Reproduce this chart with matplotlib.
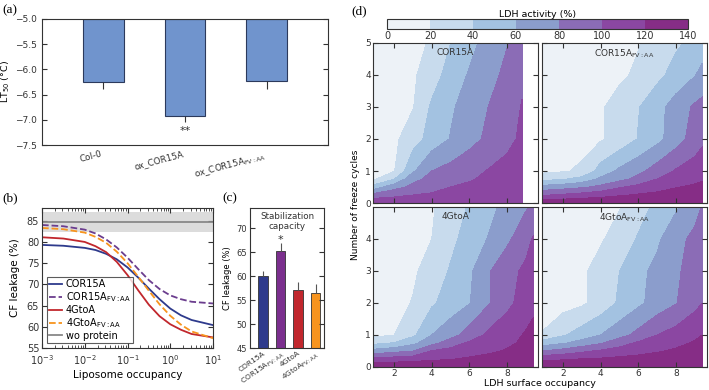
import numpy as np
import matplotlib
matplotlib.use("Agg")
import matplotlib.pyplot as plt
from matplotlib.colors import ListedColormap, BoundaryNorm

plt.rcParams['font.family'] = ['DejaVu Sans']
plt.rcParams['mathtext.default'] = 'regular'
plt.rcParams['xtick.direction'] = 'in'
plt.rcParams['ytick.direction'] = 'in'
plt.rcParams['xtick.top'] = True
plt.rcParams['ytick.right'] = True
plt.rcParams['xtick.labelsize'] = 6.5
plt.rcParams['ytick.labelsize'] = 6.5
plt.rcParams['axes.linewidth'] = 0.8
plt.rcParams['axes.edgecolor'] = '#333333'
plt.rcParams['xtick.color'] = '#333333'
plt.rcParams['ytick.color'] = '#333333'

########################
# (a) LT50 of the lines
lines_a = ['Col-0', 'ox_COR15A', 'ox_COR15A$_{FV:AA}$']
lt50 = [-6.25, -6.92, -6.23]
lt50_err = [0.13, 0.13, 0.15]

# (b) CF leakage vs liposome occupancy
occupancy = [0.001, 0.00316, 0.01, 0.0178, 0.0316, 0.0562, 0.1, 0.178,
             0.316, 0.562, 1.0, 1.78, 3.16, 10.0]
leak_cor = [79.3, 79.1, 78.6, 78.1, 77.2, 75.9, 74.0, 71.6, 69.0, 66.5, 64.3, 62.7, 61.6, 60.4]
leak_cor_fv = [84.0, 83.7, 82.9, 82.0, 80.6, 78.7, 76.3, 73.6, 71.0, 68.9, 67.4, 66.5, 65.9, 65.5]
leak_4g = [81.1, 80.8, 80.0, 79.0, 77.6, 75.3, 72.2, 68.6, 65.2, 62.5, 60.6, 59.3, 58.3, 57.5]
leak_4g_fv = [83.3, 83.0, 82.2, 81.2, 79.8, 77.7, 75.0, 71.8, 68.5, 65.3, 62.6, 60.5, 58.9, 57.3]
wo_protein = 84.8
wo_protein_band = (82.4, 87.1)
labels_b = ['COR15A', 'COR15A$_{FV:AA}$', '4GtoA', '4GtoA$_{FV:AA}$', 'wo protein']

# (c) stabilization capacity
capacity = [60.0, 65.3, 57.2, 56.4]
capacity_err = [1.0, 1.5, 1.5, 1.9]
colors_c = ['#2e3a8c', '#7b2f8e', '#c1272d', '#f7941e']

# (d) LDH activity maps
ldh_levels = [0, 20, 40, 60, 80, 100, 120, 140]
freeze = [0, 0.25, 0.5, 0.75, 1, 2, 3, 4, 5]
surf_tl = [0.9, 2, 3, 4, 5, 6, 7, 8, 8.8]
surf = [0.9, 2, 3, 4, 5, 6, 7, 8, 9, 9.4]

ldh_cor = [
    [118, 118, 119, 119, 119, 119, 119, 119, 119],
    [87, 94, 100, 103, 106, 109, 112, 116, 118],
    [48, 73, 85, 92, 100, 104, 108, 112, 115],
    [17, 39, 75, 85, 92, 98, 104, 109, 113],
    [14, 19, 57, 80, 87, 94, 101, 107, 112],
    [6, 16, 31, 48, 61, 73, 84, 94, 104],
    [5, 12, 19, 43, 57, 69, 80, 91, 101],
    [4, 11, 17, 31, 48, 62, 73, 85, 97],
    [4, 10, 15, 22, 40, 54, 67, 79, 92],
]
ldh_cor_fv = [
    [135, 136, 137, 137, 138, 138, 139, 139, 139, 139],
    [98, 103, 108, 113, 118, 122, 125, 128, 131, 132],
    [67, 72, 77, 85, 98, 106, 112, 119, 123, 125],
    [34, 38, 47, 64, 74, 86, 100, 107, 115, 118],
    [15, 18, 23, 48, 64, 75, 89, 102, 109, 113],
    [6, 10, 14, 18, 27, 41, 54, 71, 89, 96],
    [4, 9, 14, 18, 27, 39, 53, 69, 83, 86],
    [3, 7, 10, 14, 17, 23, 35, 47, 59, 67],
    [3, 6, 10, 13, 16, 19, 27, 37, 45, 48],
]
ldh_4g = [
    [136, 137, 138, 138, 139, 139, 139, 139, 139, 139],
    [105, 109, 112, 116, 119, 123, 127, 131, 135, 137],
    [67, 74, 80, 101, 106, 111, 116, 122, 128, 132],
    [35, 41, 55, 73, 91, 103, 110, 116, 124, 128],
    [15, 20, 36, 60, 72, 89, 104, 112, 122, 126],
    [6, 14, 21, 37, 49, 59, 78, 95, 109, 115],
    [5, 11, 17, 28, 42, 56, 78, 93, 104, 108],
    [4, 10, 15, 20, 35, 48, 61, 76, 93, 102],
    [4, 9, 14, 18, 29, 42, 54, 66, 78, 83],
]
ldh_4g_fv = [
    [136, 137, 138, 138, 139, 139, 139, 139, 139, 139],
    [115, 118, 120.5, 122, 125, 127, 130, 132, 135, 136],
    [80, 88, 96, 103, 108, 113, 118, 123, 128, 130],
    [50, 58, 68, 78, 92, 103, 109, 115, 122, 125],
    [22, 38, 49, 60, 73, 86, 100, 108, 116, 120],
    [6, 12, 17, 28, 43, 56, 68, 79, 94, 100],
    [4, 11, 17, 27, 40, 54, 66, 77, 88, 93],
    [3, 8, 13, 18, 28, 42, 56, 75, 84, 87],
    [3, 7, 11, 15, 19, 32, 45, 57, 74, 81],
]
ldh_colors = ['#edf2f7', '#c8dbed', '#a3c2e1', '#8b9dcc', '#8b6cb6', '#8b47a2', '#862d86']

W, H = 709, 390


def box(x0, y0, x1, y1):
    # pixel box -> figure fraction
    return [x0 / W, 1 - y1 / H, (x1 - x0) / W, (y1 - y0) / H]


fig = plt.figure(figsize=(W / 100, H / 100), dpi=100)

#########################
# (a)
ax = fig.add_axes(box(42, 19, 328, 145))
xa = np.arange(len(lines_a))
ax.bar(xa, np.array(lt50) + 5.0, bottom=-5.0, width=0.5, color='#7094cd',
       edgecolor='#2c3a5c', linewidth=0.8,
       yerr=[lt50_err, np.zeros(3)], error_kw=dict(ecolor='#333333', elinewidth=0.8, capsize=0))
ax.set_ylim(-7.5, -5.0)
ax.set_xlim(-0.75, 2.75)
ax.set_yticks([-7.5, -7.0, -6.5, -6.0, -5.5, -5.0])
ax.set_xticks(xa)
ax.set_xticklabels(lines_a, rotation=15, ha='right', fontsize=6.3)
ax.tick_params(axis='x', length=0, pad=3)
ax.set_ylabel('LT$_{50}$ (°C)', fontsize=6.8)
ax.yaxis.set_label_coords(-0.105, 0.5)
ax.text(1, -7.22, '**', ha='center', va='center', fontsize=8, color='#333333')

#########################
# (b)
ax = fig.add_axes(box(42, 208, 213, 348))
ax.axhspan(*wo_protein_band, color='#dcdcdc', lw=0)
ax.plot(occupancy, leak_cor, color='#2e3a8c', lw=1.3, label=labels_b[0])
ax.plot(occupancy, leak_cor_fv, color='#6b3d8e', lw=1.3, ls='--', label=labels_b[1])
ax.plot(occupancy, leak_4g, color='#c1272d', lw=1.3, label=labels_b[2])
ax.plot(occupancy, leak_4g_fv, color='#f7941e', lw=1.3, ls='--', label=labels_b[3])
ax.axhline(wo_protein, color='#888888', lw=1.3, label=labels_b[4])
ax.set_xscale('log')
ax.set_xlim(1e-3, 1e1)
ax.set_ylim(55, 88)
ax.set_yticks([55, 60, 65, 70, 75, 80, 85])
ax.tick_params(labelsize=7, pad=2)
ax.tick_params(axis='x', pad=4)
ax.set_xlabel('Liposome occupancy', fontsize=7.5)
ax.set_ylabel('CF leakage (%)', fontsize=7.5)
ax.yaxis.set_label_coords(-0.129, 0.5)
ax.xaxis.set_label_coords(0.5, -0.155)
leg = ax.legend(loc='lower left', fontsize=7, frameon=True, fancybox=False,
                handlelength=1.3, borderpad=0.25, labelspacing=0.1,
                handletextpad=0.4, borderaxespad=0.5)
leg.get_frame().set_edgecolor('#333333')
leg.get_frame().set_linewidth(0.8)

#########################
# (c)
ax = fig.add_axes(box(250, 208, 324, 348))
xc = np.arange(len(capacity))
ax.bar(xc, capacity, width=0.53, color=colors_c, edgecolor='#333333', linewidth=0.6,
       yerr=[np.zeros(4), capacity_err], error_kw=dict(ecolor='#555555', elinewidth=0.8, capsize=0))
ax.set_ylim(45, 74.2)
ax.set_xlim(-0.75, 3.48)
ax.set_yticks([45, 50, 55, 60, 65, 70])
ax.tick_params(labelsize=6, pad=2)
ax.set_xticks(xc)
ax.set_xticklabels(labels_b[:4], rotation=35, ha='right', fontsize=5.4,
                   rotation_mode='anchor')
ax.tick_params(axis='x', length=0, pad=1.5)
ax.set_ylabel('CF leakage (%)', fontsize=6)
ax.yaxis.set_label_coords(-0.243, 0.5)
ax.text(0.5, 0.97, 'Stabilization\ncapacity', transform=ax.transAxes, ha='center',
        va='top', fontsize=6.3, linespacing=1.1, color='#333333')
ax.text(1, 67.6, '*', ha='center', va='center', fontsize=8, color='#333333')

#########################
# (d)
cmap = ListedColormap(ldh_colors)
norm = BoundaryNorm(ldh_levels, cmap.N)
panels = [
    (box(373, 43, 538, 203), surf_tl, ldh_cor, 'COR15A'),
    (box(542, 43, 707, 203), surf, ldh_cor_fv, 'COR15A$_{FV:AA}$'),
    (box(373, 207, 538, 367), surf, ldh_4g, '4GtoA'),
    (box(542, 207, 707, 367), surf, ldh_4g_fv, '4GtoA$_{FV:AA}$'),
]
for i, (rect, xs, zs, name) in enumerate(panels):
    ax = fig.add_axes(rect)
    cs = ax.contourf(xs, freeze, np.array(zs, dtype=float), levels=ldh_levels,
                     cmap=cmap, norm=norm)
    ax.set_xlim(0.88, 9.65)
    ax.set_ylim(0, 5)
    ax.set_xticks([2, 4, 6, 8])
    ax.set_yticks([0, 1, 2, 3, 4, 5] if i < 2 else [0, 1, 2, 3, 4])
    ax.tick_params(labelsize=6.5, pad=1.5)
    if i < 2:
        ax.set_xticklabels([])
    if i % 2 == 1:
        ax.set_yticklabels([])
    ax.text(0.5, 0.97, name, transform=ax.transAxes, ha='center', va='top',
            fontsize=6.5, color='#333333')

cax = fig.add_axes(box(387, 19, 688, 29))
cb = fig.colorbar(cs, cax=cax, orientation='horizontal', ticks=ldh_levels)
cb.outline.set_edgecolor('#333333')
cb.outline.set_linewidth(0.8)
cax.tick_params(length=0, labelsize=7, pad=1.5, top=False)
cax.set_title('LDH activity (%)', fontsize=6.8, pad=1.5)

fig.text(356 / W, 1 - 205 / H, 'Number of freeze cycles', rotation=90,
         ha='center', va='center', fontsize=6.5)
fig.text(540 / W, 1 - 384 / H, 'LDH surface occupancy', ha='center', va='center',
         fontsize=6.8)

# panel letters
for lab, px, py in [('(a)', 2, 10), ('(b)', 2, 198), ('(c)', 222, 198), ('(d)', 351, 11)]:
    fig.text(px / W, 1 - py / H, lab, ha='left', va='center', fontsize=9.5,
             family='Liberation Serif')

fig.savefig('out.png', dpi=100)
